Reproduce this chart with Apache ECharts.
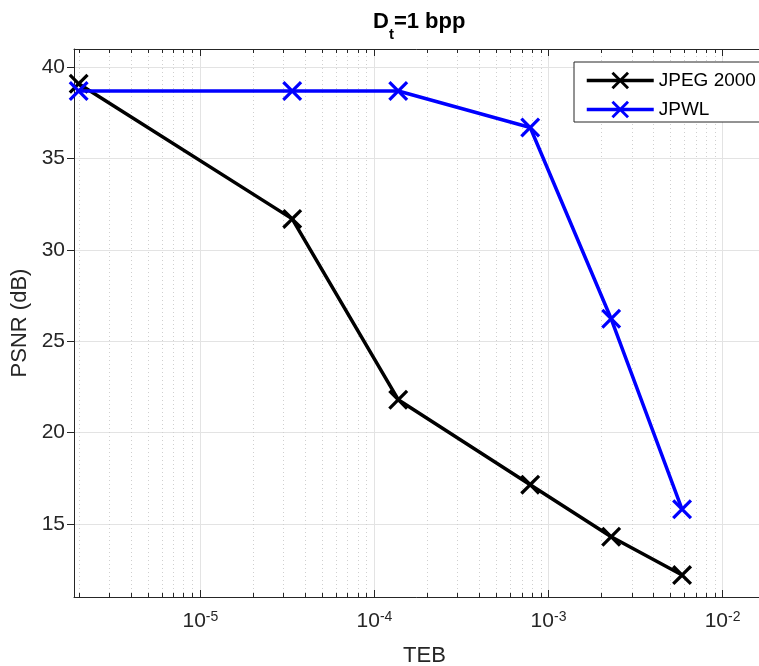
<!DOCTYPE html>
<html><head><meta charset="utf-8">
<script src="https://cdn.jsdelivr.net/npm/echarts@6/dist/echarts.min.js"></script>
<style>html,body{margin:0;padding:0;background:#fff}#c{width:759px;height:666px}</style>
</head><body><div id="c"></div>
<script>
// ---- data ----
const teb = [2e-6, 3.37e-5, 1.37e-4, 7.85e-4, 2.29e-3, 5.85e-3];
const jpeg2000 = [39.1, 31.7, 21.8, 17.15, 14.3, 12.2];
const jpwl = [38.7, 38.7, 38.7, 36.7, 26.23, 15.8];
const seriesNames = ['JPEG 2000', 'JPWL'];
const titleParts = ['D', 't', '=1 bpp'];
const xName = 'TEB';
const yName = 'PSNR (dB)';
const yTicks = [15, 20, 25, 30, 35, 40];
const xMinorTicks = [
  2e-6, 3e-6, 4e-6, 5e-6, 6e-6, 7e-6, 8e-6, 9e-6,
  2e-5, 3e-5, 4e-5, 5e-5, 6e-5, 7e-5, 8e-5, 9e-5,
  2e-4, 3e-4, 4e-4, 5e-4, 6e-4, 7e-4, 8e-4, 9e-4,
  2e-3, 3e-3, 4e-3, 5e-3, 6e-3, 7e-3, 8e-3, 9e-3
];
const xRange = [1.88e-6, 0.02];
const yRange = [11, 41];

// ---- styling ----
const FONT = "'Liberation Sans', Arial, Helvetica, sans-serif";
const AX = '#262626';
const GRID = '#e3e3e3';
const X_PATH = 'path://M0,2.3L2.3,0L10,7.7L17.7,0L20,2.3L12.3,10L20,17.7L17.7,20L10,12.3L2.3,20L0,17.7L7.7,10Z';

function xLabel(v) {
  const l = Math.log10(v);
  const e = Math.round(l);
  if (Math.abs(l - e) > 1e-6) return '';
  return '{b|10}{s|' + e + '}';
}

const chart = echarts.init(document.getElementById('c'), null, {renderer: 'canvas'});
const option = {
  animation: false,
  backgroundColor: '#fff',
  title: {
    text: '{m|' + titleParts[0] + '}{s|' + titleParts[1] + '}{m|' + titleParts[2] + '}',
    left: 373, top: 2, padding: 0,
    textStyle: {
      rich: {
        m: {fontSize: 22, fontWeight: 'bold', color: '#000', fontFamily: FONT, lineHeight: 40},
        s: {fontSize: 15, fontWeight: 'bold', color: '#000', fontFamily: FONT, lineHeight: 12, verticalAlign: 'bottom'}
      }
    }
  },
  legend: {
    left: 574, top: 62, orient: 'vertical',
    padding: [9, 40, 3, 11], itemGap: 10, itemWidth: 67, itemHeight: 22,
    borderColor: AX, borderWidth: 1, borderRadius: 0, backgroundColor: '#fff',
    textStyle: {fontSize: 19, color: '#000', fontFamily: FONT},
    lineStyle: {width: 3.5},
    data: seriesNames
  },
  grid: {left: 74, top: 49, right: -16, bottom: 69, containLabel: false, outerBoundsMode: 'none'},
  xAxis: [{
    type: 'log', logBase: 10, min: xRange[0], max: xRange[1], position: 'bottom',
    axisLine: {show: true, onZero: false, lineStyle: {color: AX, width: 1}},
    axisTick: {show: true, inside: true, length: 7, lineStyle: {color: AX, width: 1}},
    axisLabel: {
      formatter: xLabel, margin: 13, showMinLabel: false, showMaxLabel: false,
      rich: {
        b: {fontSize: 21, color: AX, fontFamily: FONT, lineHeight: 22, padding: [3, 0, 0, 0], verticalAlign: 'bottom'},
        s: {fontSize: 14, color: AX, fontFamily: FONT, lineHeight: 15, verticalAlign: 'top'}
      }
    },
    splitLine: {show: true, lineStyle: {color: GRID, width: 1}},
    name: xName, nameLocation: 'middle', nameGap: 48,
    nameTextStyle: {fontSize: 22, color: AX, fontFamily: FONT}
  }, {
    type: 'log', logBase: 10, min: xRange[0], max: xRange[1], position: 'top',
    axisLine: {show: true, onZero: false, lineStyle: {color: AX, width: 1}},
    axisTick: {show: true, inside: true, length: 7, lineStyle: {color: AX, width: 1}},
    axisLabel: {show: false},
    splitLine: {show: false}
  }],
  yAxis: {
    type: 'value', min: yRange[0], max: yRange[1],
    axisLine: {show: true, onZero: false, lineStyle: {color: AX, width: 1}},
    axisTick: {show: true, inside: false, length: 7, customValues: yTicks, lineStyle: {color: AX, width: 1}},
    axisLabel: {customValues: yTicks, fontSize: 21, color: AX, fontFamily: FONT, margin: 9},
    splitLine: {show: true, lineStyle: {color: GRID, width: 1}},
    name: yName, nameLocation: 'middle', nameGap: 38,
    nameTextStyle: {fontSize: 22, color: AX, fontFamily: FONT}
  },
  series: [{
    type: 'custom', xAxisIndex: 0, yAxisIndex: 0, silent: true, z: 1,
    data: xMinorTicks.map(v => [v, yRange[0]]),
    encode: {x: 0, y: 1},
    renderItem: function (params, api) {
      const v = api.value(0);
      const b = api.coord([v, yRange[0]]);
      const t = api.coord([v, yRange[1]]);
      const x = Math.round(b[0]) + 0.5;
      return {
        type: 'group',
        children: [
          {type: 'line', shape: {x1: x, y1: b[1], x2: x, y2: t[1]}, style: {stroke: '#cfcfcf', lineWidth: 1, lineDash: [1, 3]}},
          {type: 'line', shape: {x1: x, y1: b[1], x2: x, y2: b[1] - 4}, style: {stroke: AX, lineWidth: 1}},
          {type: 'line', shape: {x1: x, y1: t[1], x2: x, y2: t[1] + 4}, style: {stroke: AX, lineWidth: 1}}
        ]
      };
    }
  }, {
    name: seriesNames[0], type: 'line', z: 3,
    data: teb.map((x, i) => [x, jpeg2000[i]]),
    symbol: X_PATH, symbolSize: 20, showSymbol: true,
    lineStyle: {color: '#000', width: 3.5},
    itemStyle: {color: '#000'}
  }, {
    name: seriesNames[1], type: 'line', z: 4,
    data: teb.map((x, i) => [x, jpwl[i]]),
    symbol: X_PATH, symbolSize: 20, showSymbol: true,
    lineStyle: {color: '#0000ff', width: 3.5},
    itemStyle: {color: '#0000ff'}
  }]
};
chart.setOption(option);
</script>
</body></html>
